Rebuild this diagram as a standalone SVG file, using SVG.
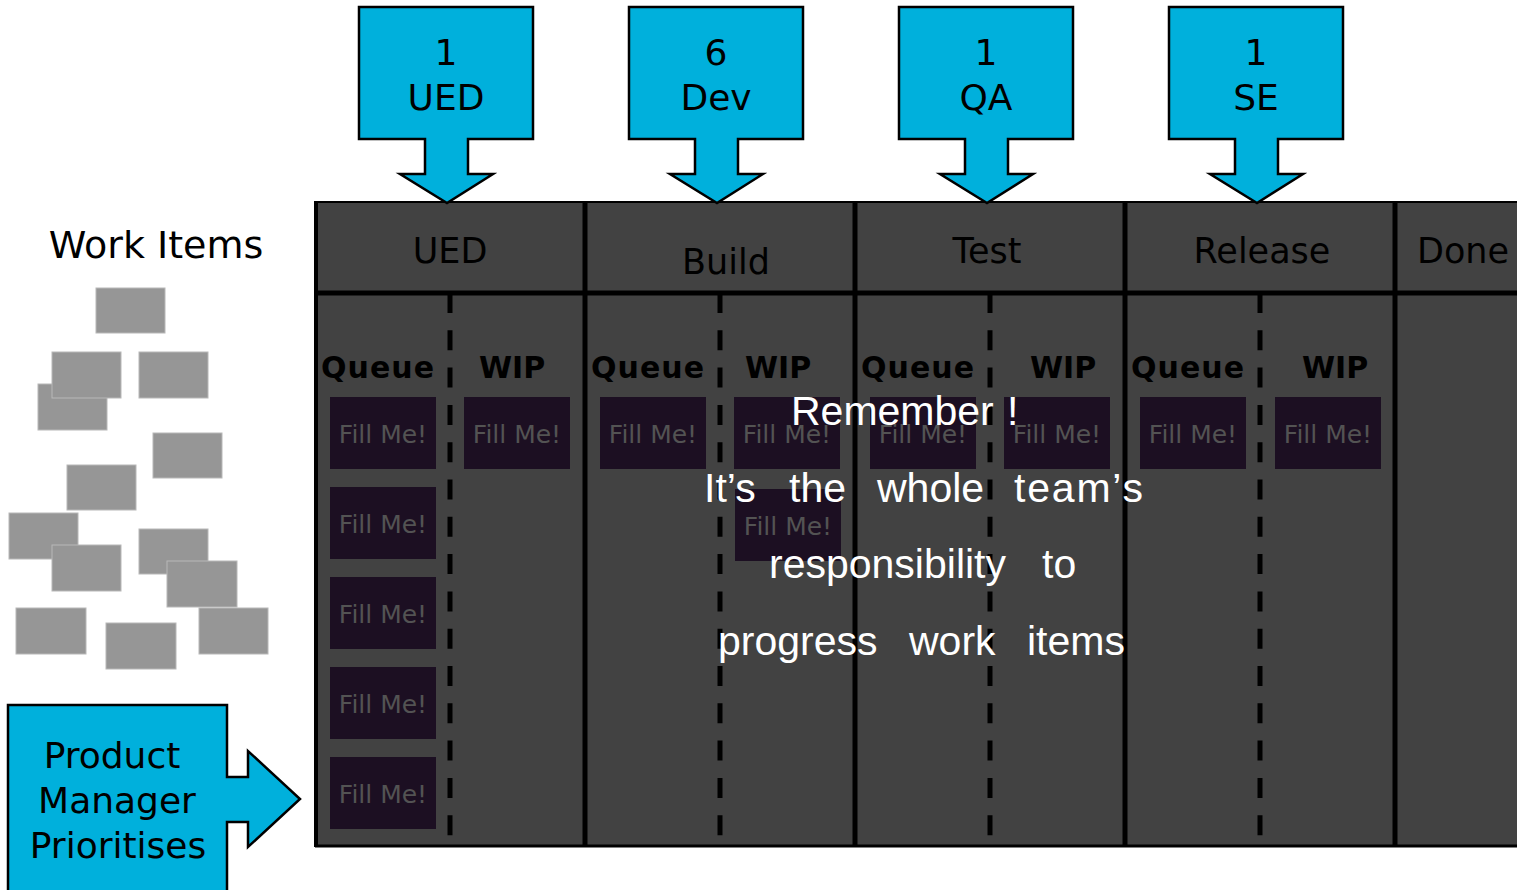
<svg xmlns="http://www.w3.org/2000/svg" width="1517" height="890" viewBox="0 0 1517 890">
<style>
.v{font-family:"DejaVu Sans","Verdana",sans-serif;}
.blue{fill:#00b0dc;stroke:#000;stroke-width:2.5;stroke-linejoin:miter;}
.big{font-size:36px;fill:#000;text-anchor:middle;}
.hdr{font-size:35px;fill:#000;text-anchor:middle;}
.hdrs{font-size:35px;fill:#000;text-anchor:start;}
.lbl{font-size:30px;font-weight:bold;fill:#000;}
.lblm{font-size:30px;font-weight:bold;fill:#000;text-anchor:middle;}
.card{fill:#1c0f22;}
.ct{font-size:25px;fill:#535353;text-anchor:middle;}
.wi{fill:#969696;stroke:#b8b8b8;stroke-width:1;}
.sol{stroke:#000;stroke-width:5;fill:none;}
.dash{stroke:#000;stroke-width:5;fill:none;stroke-dasharray:20 17.3;}
.rem{font-family:"Liberation Sans",Arial,sans-serif;font-size:41px;fill:#fff;}
</style>
<rect width="1517" height="890" fill="#fff"/>

<g id="work-items">
<text class="v" x="156" y="258" font-size="38" text-anchor="middle" fill="#000">Work Items</text>
<rect class="wi" x="96" y="288" width="69" height="45"/>
<rect class="wi" x="38" y="384" width="69" height="46"/>
<rect class="wi" x="52" y="352" width="69" height="46"/>
<rect class="wi" x="139" y="352" width="69" height="46"/>
<rect class="wi" x="153" y="433" width="69" height="45"/>
<rect class="wi" x="67" y="465" width="69" height="45"/>
<rect class="wi" x="9" y="513" width="69" height="46"/>
<rect class="wi" x="52" y="545" width="69" height="46"/>
<rect class="wi" x="139" y="529" width="69" height="45"/>
<rect class="wi" x="167" y="561" width="70" height="46"/>
<rect class="wi" x="16" y="608" width="70" height="46"/>
<rect class="wi" x="106" y="623" width="70" height="46"/>
<rect class="wi" x="199" y="608" width="69" height="46"/>
</g>

<g id="board">
<rect x="316" y="202" width="1205" height="644" fill="#424242"/>
<line x1="315" y1="202" x2="1517" y2="202" stroke="#000" stroke-width="2"/>
<line x1="316" y1="201" x2="316" y2="847" stroke="#000" stroke-width="4"/>
<line x1="315" y1="846" x2="1517" y2="846" stroke="#000" stroke-width="3"/>
<line class="sol" x1="316" y1="293" x2="1517" y2="293"/>
<line class="sol" x1="585" y1="202" x2="585" y2="846"/>
<line class="sol" x1="855" y1="202" x2="855" y2="846"/>
<line class="sol" x1="1125" y1="202" x2="1125" y2="846"/>
<line class="sol" x1="1395" y1="202" x2="1395" y2="846"/>
<line class="dash" x1="450" y1="293" x2="450" y2="846"/>
<line class="dash" x1="720" y1="293" x2="720" y2="846"/>
<line class="dash" x1="990" y1="293" x2="990" y2="846"/>
<line class="dash" x1="1260" y1="293" x2="1260" y2="846"/>
<text class="v hdr" x="450" y="263">UED</text>
<text class="v hdr" x="726" y="274">Build</text>
<text class="v hdr" x="987" y="263">Test</text>
<text class="v hdr" x="1262" y="263">Release</text>
<text class="v hdrs" x="1417" y="263">Done</text>
</g>

<g id="col-ued">
<text class="v lbl" x="321" y="378" textLength="113">Queue</text>
<text class="v lblm" x="512" y="378">WIP</text>
<rect class="card" x="330" y="397" width="106" height="72"/><text class="v ct" x="383" y="443">Fill Me!</text>
<rect class="card" x="330" y="487" width="106" height="72"/><text class="v ct" x="383" y="533">Fill Me!</text>
<rect class="card" x="330" y="577" width="106" height="72"/><text class="v ct" x="383" y="623">Fill Me!</text>
<rect class="card" x="330" y="667" width="106" height="72"/><text class="v ct" x="383" y="713">Fill Me!</text>
<rect class="card" x="330" y="757" width="106" height="72"/><text class="v ct" x="383" y="803">Fill Me!</text>
<rect class="card" x="464" y="397" width="106" height="72"/><text class="v ct" x="517" y="443">Fill Me!</text>
</g>

<g id="col-build">
<text class="v lbl" x="591" y="378" textLength="113">Queue</text>
<text class="v lblm" x="778" y="378">WIP</text>
<rect class="card" x="600" y="397" width="106" height="72"/><text class="v ct" x="653" y="443">Fill Me!</text>
<rect class="card" x="734" y="397" width="106" height="72"/><text class="v ct" x="787" y="443">Fill Me!</text>
<rect class="card" x="735" y="489" width="106" height="72"/><text class="v ct" x="788" y="535">Fill Me!</text>
</g>

<g id="col-test">
<text class="v lbl" x="861" y="378" textLength="113">Queue</text>
<text class="v lblm" x="1063" y="378">WIP</text>
<rect class="card" x="870" y="397" width="106" height="72"/><text class="v ct" x="923" y="443">Fill Me!</text>
<rect class="card" x="1004" y="397" width="106" height="72"/><text class="v ct" x="1057" y="443">Fill Me!</text>
</g>

<g id="col-release">
<text class="v lbl" x="1131" y="378" textLength="113">Queue</text>
<text class="v lblm" x="1335" y="378">WIP</text>
<rect class="card" x="1140" y="397" width="106" height="72"/><text class="v ct" x="1193" y="443">Fill Me!</text>
<rect class="card" x="1275" y="397" width="106" height="72"/><text class="v ct" x="1328" y="443">Fill Me!</text>
</g>

<g id="staff-ued">
<path class="blue" d="M359,7 H533 V139 H468 V174 H493 L447,203 L400,174 H425 V139 H359 Z"/>
<text class="v big" x="446" y="65">1</text>
<text class="v big" x="446" y="110">UED</text>
</g>
<g id="staff-dev">
<path class="blue" d="M629,7 H803 V139 H738 V174 H763 L717,203 L670,174 H695 V139 H629 Z"/>
<text class="v big" x="716" y="65">6</text>
<text class="v big" x="716" y="110">Dev</text>
</g>
<g id="staff-qa">
<path class="blue" d="M899,7 H1073 V139 H1008 V174 H1033 L987,203 L940,174 H965 V139 H899 Z"/>
<text class="v big" x="986" y="65">1</text>
<text class="v big" x="986" y="110">QA</text>
</g>
<g id="staff-se">
<path class="blue" d="M1169,7 H1343 V139 H1278 V174 H1303 L1257,203 L1210,174 H1235 V139 H1169 Z"/>
<text class="v big" x="1256" y="65">1</text>
<text class="v big" x="1256" y="110">SE</text>
</g>

<g id="product-manager">
<path class="blue" d="M8,705 H227 V777 H248 V751 L300,799 L248,847 V822 H227 V895 H8 Z"/>
<text class="v big" x="112" y="768" font-size="37">Product</text>
<text class="v big" x="117" y="813" font-size="37">Manager</text>
<text class="v big" x="118" y="858" font-size="37">Prioritises</text>
</g>

<g id="reminder">
<text class="rem" x="791" y="425">Remember</text>
<text class="rem" x="1007" y="425">!</text>
<text class="rem" x="704" y="502">It’s</text>
<text class="rem" x="789" y="502">the</text>
<text class="rem" x="877" y="502">whole</text>
<text class="rem" x="1014" y="502" textLength="129">team’s</text>
<text class="rem" x="769" y="578">responsibility</text>
<text class="rem" x="1042" y="578">to</text>
<text class="rem" x="718" y="655">progress</text>
<text class="rem" x="909" y="655">work</text>
<text class="rem" x="1027" y="655">items</text>
</g>

<g id="connectors"/>
</svg>
